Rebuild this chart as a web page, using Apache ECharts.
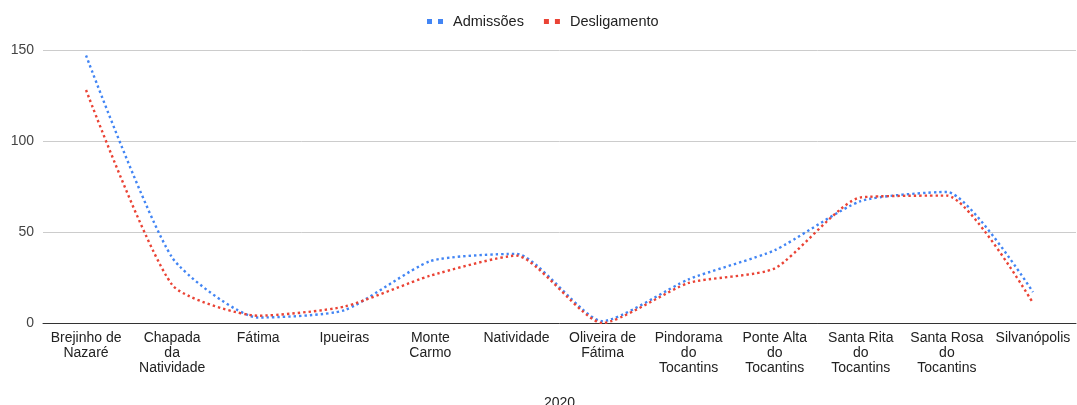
<!DOCTYPE html>
<html>
<head>
<meta charset="utf-8">
<script src="https://cdn.jsdelivr.net/npm/echarts@6/dist/echarts.min.js"></script>
<style>
  html, body { margin: 0; padding: 0; background: #fff; }
  #chart { width: 1077px; height: 405px; }
</style>
</head>
<body>
<div id="chart"></div>
<script>
// Municipalities (line breaks give the wrapped axis labels)
const categories = [
  'Brejinho de\nNazaré', 'Chapada\nda\nNatividade', 'Fátima', 'Ipueiras',
  'Monte\nCarmo', 'Natividade', 'Oliveira de\nFátima', 'Pindorama\ndo\nTocantins',
  'Ponte Alta\ndo\nTocantins', 'Santa Rita\ndo\nTocantins', 'Santa Rosa\ndo\nTocantins', 'Silvanópolis'
];
const admissoes = [147, 36, 3, 7, 34, 38, 1, 24, 40, 67, 72, 17];
const desligamento = [128, 21, 4, 9, 26, 37, 0, 22, 30, 69, 70, 11];
const yTicks = { min: 0, max: 150, interval: 50 };
const periodo = '2020';

const font = 'Arial';
const twoDots = 'path://M0,0h5v5h-5z M11,0h5v5h-5z';

const chart = echarts.init(document.getElementById('chart'), null, { renderer: 'canvas' });

function lineSeries(name, data, color) {
  return {
    name, type: 'line', data,
    smooth: 0.2,
    symbol: 'none',
    lineStyle: { color, width: 2.4, type: [2.4, 3] },
    itemStyle: { color },
    emphasis: { disabled: true }
  };
}

chart.setOption({
  animation: false,
  textStyle: { fontFamily: font },
  legend: {
    top: 9,
    left: 422,
    itemGap: 20,
    itemWidth: 16,
    itemHeight: 5,
    textStyle: { fontSize: 14.5, color: '#222', fontFamily: font, padding: [0, 0, 0, 5] },
    data: [
      { name: 'Admissões', icon: twoDots },
      { name: 'Desligamento', icon: twoDots }
    ]
  },
  grid: { left: 43, right: 1, top: 50, bottom: 82, outerBoundsMode: 'none', containLabel: false },
  xAxis: {
    type: 'category',
    data: categories,
    boundaryGap: true,
    name: periodo,
    nameLocation: 'middle',
    nameGap: 73,
    nameTextStyle: { fontSize: 14, color: '#222', fontFamily: font },
    axisLine: { lineStyle: { color: '#333', width: 1 } },
    axisTick: { show: false },
    axisLabel: {
      interval: 0, fontSize: 14, color: '#222', lineHeight: 15, margin: 8,
      fontFamily: font
    }
  },
  yAxis: {
    type: 'value',
    min: yTicks.min, max: yTicks.max, interval: yTicks.interval,
    axisLine: { show: false },
    axisTick: { show: false },
    axisLabel: { fontSize: 14, color: '#444', margin: 9, fontFamily: font },
    splitLine: { lineStyle: { color: '#ccc', width: 1 } }
  },
  series: [
    lineSeries('Admissões', admissoes, '#4285F4'),
    lineSeries('Desligamento', desligamento, '#EA4335')
  ]
});
</script>
</body>
</html>
